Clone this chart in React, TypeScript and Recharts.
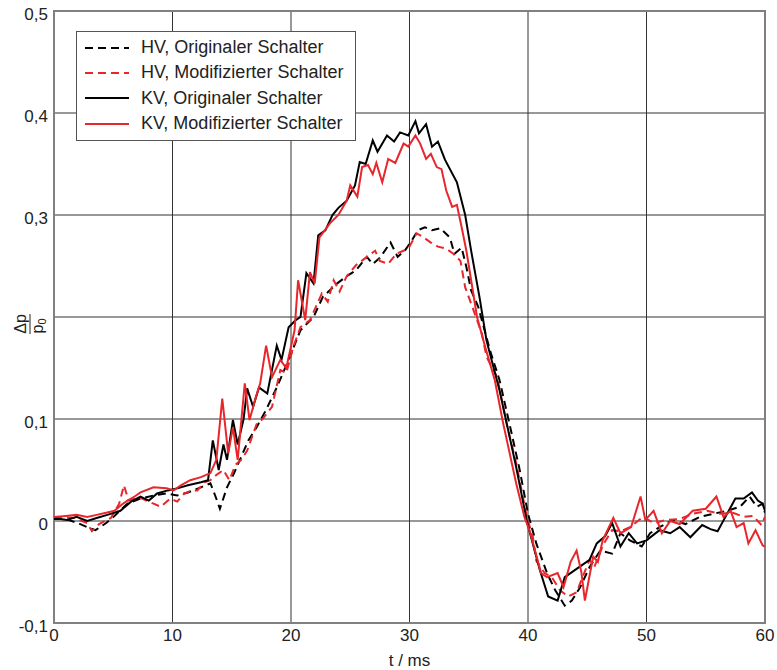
import { CartesianGrid, Legend, Line, LineChart, ReferenceArea, XAxis, YAxis } from "recharts";

// Messdaten [t in ms, Δp/p0]
const HV_ORIG: [number, number][] = [
  [0, 0.002], [1, 0.002], [2, -0.002], [2.8, -0.006], [3.5, -0.009], [4.4, -0.002], [5.1, 0.005],
  [6.2, 0.017], [7.3, 0.022], [8.4, 0.025], [9.5, 0.027], [10.4, 0.025], [11.3, 0.028], [12.4, 0.033],
  [13.2, 0.037], [13.6, 0.025], [14, 0.012], [14.6, 0.033], [15.2, 0.047], [15.8, 0.063], [16.4, 0.079],
  [17.1, 0.092], [17.9, 0.109], [18.8, 0.131], [19.8, 0.158], [20.8, 0.187], [21.9, 0.2], [22.7, 0.22],
  [23.9, 0.233], [24.7, 0.24], [25.5, 0.246], [26.4, 0.259], [26.9, 0.252], [27.5, 0.258], [28.4, 0.273],
  [29, 0.259], [29.6, 0.265], [30.2, 0.275], [30.7, 0.285], [31.3, 0.288], [31.9, 0.285], [32.6, 0.287],
  [33.4, 0.278], [33.8, 0.262], [34.4, 0.268], [34.8, 0.249], [35.2, 0.226], [35.8, 0.21], [36.8, 0.167],
  [37.6, 0.138], [38.5, 0.092], [39.3, 0.05], [40, 0.007], [40.7, -0.022], [41.6, -0.051], [42.3, -0.068],
  [43.1, -0.083], [43.7, -0.078], [44.4, -0.065], [45.2, -0.045], [46.1, -0.029], [47.1, -0.032],
  [47.8, -0.012], [48.6, -0.019], [49.6, -0.025], [50.3, -0.012], [51.1, -0.006], [52.2, 0.001],
  [53.3, -0.003], [54.5, 0.004], [55.6, 0.007], [56.8, 0.01], [57.9, 0.014], [58.7, 0.024], [59.3, 0.014],
  [59.8, 0.017], [60, 0.008],
];

const HV_MOD: [number, number][] = [
  [0, 0.004], [1.7, 0.003], [2.8, -0.002], [3.2, -0.01], [3.8, -0.003], [4.8, 0.003], [5.5, 0.017],
  [5.9, 0.035], [6.3, 0.02], [7.2, 0.023], [8.4, 0.017], [9, 0.014], [9.8, 0.022], [10.4, 0.019],
  [11, 0.027], [11.6, 0.03], [12.1, 0.03], [12.7, 0.038], [13.2, 0.04], [13.8, 0.046], [14.3, 0.05],
  [14.8, 0.04], [15.3, 0.055], [15.8, 0.06], [16.3, 0.069], [17.1, 0.095], [17.6, 0.1], [18.4, 0.112],
  [19.1, 0.148], [19.6, 0.145], [20.2, 0.171], [20.8, 0.19], [21.6, 0.197], [22.6, 0.223], [23.1, 0.215],
  [23.6, 0.236], [24.1, 0.225], [24.7, 0.24], [25.5, 0.251], [26.3, 0.258], [27.1, 0.265], [27.5, 0.255],
  [28.2, 0.252], [28.9, 0.262], [29.9, 0.267], [30.6, 0.282], [31.2, 0.278], [31.8, 0.273], [32.4, 0.269],
  [33.1, 0.267], [33.7, 0.262], [34.3, 0.255], [34.7, 0.229], [35.3, 0.21], [36.1, 0.184], [36.5, 0.161],
  [37.4, 0.141], [38.2, 0.095], [39, 0.057], [39.9, 0.004], [40.4, -0.015], [40.7, -0.039], [41.4, -0.051],
  [42, -0.055], [42.7, -0.068], [43.4, -0.074], [44.1, -0.07], [44.5, -0.058], [45.2, -0.038],
  [45.6, -0.045], [46.4, -0.022], [47.1, -0.009], [47.8, -0.01], [48.6, -0.006], [49.7, 0.004],
  [50.6, -0.002], [51.7, 0.001], [52.8, 0.002], [53.9, 0.007], [55.1, 0.01], [56.2, 0.007], [57.3, 0.008],
  [58.2, 0.004], [59, 0.005], [59.7, -0.004], [60, 0.004],
];

const KV_ORIG: [number, number][] = [
  [0, 0.003], [1.1, 0.001], [1.9, 0.004], [2.8, 0], [3.6, 0.003], [4.5, 0.006], [5.6, 0.01], [6.5, 0.019],
  [7.3, 0.024], [8, 0.02], [8.7, 0.027], [9.6, 0.03], [10.4, 0.032], [11.3, 0.035], [12.4, 0.038],
  [13, 0.04], [13.4, 0.079], [13.9, 0.05], [14.3, 0.075], [14.6, 0.06], [15.1, 0.099], [15.5, 0.075],
  [16, 0.1], [16.3, 0.13], [16.8, 0.112], [17.3, 0.131], [18, 0.125], [18.8, 0.172], [19.2, 0.158],
  [19.8, 0.19], [20.4, 0.197], [20.8, 0.2], [21.3, 0.243], [21.9, 0.233], [22.3, 0.28], [22.9, 0.285],
  [23.5, 0.3], [24, 0.307], [24.7, 0.314], [25.4, 0.329], [25.8, 0.352], [26.3, 0.35], [26.9, 0.373],
  [27.3, 0.362], [28.1, 0.378], [28.7, 0.372], [29.2, 0.381], [29.9, 0.378], [30.5, 0.392], [30.8, 0.38],
  [31.4, 0.389], [31.9, 0.367], [32.4, 0.372], [33, 0.354], [34, 0.332], [34.7, 0.3], [35.2, 0.265],
  [35.9, 0.22], [36.5, 0.177], [37.6, 0.128], [39, 0.053], [39.9, 0], [40.4, -0.022], [41, -0.048],
  [41.7, -0.074], [42.5, -0.078], [43.1, -0.055], [44.1, -0.047], [45.2, -0.038], [45.8, -0.022],
  [46.5, -0.015], [47.1, -0.002], [47.8, -0.025], [48.5, -0.012], [49.2, -0.022], [50, -0.019],
  [51.1, -0.009], [52, -0.012], [52.8, -0.006], [53.7, -0.016], [54.7, -0.004], [55.4, -0.008],
  [56, -0.01], [56.8, 0.007], [57.5, 0.022], [58.2, 0.022], [58.9, 0.028], [59.4, 0.02], [59.8, 0.017],
  [60, 0.01],
];

const KV_MOD: [number, number][] = [
  [0, 0.004], [1, 0.005], [1.9, 0.006], [2.8, 0.004], [3.6, 0.006], [4.4, 0.008], [5.1, 0.01],
  [5.7, 0.016], [6.2, 0.02], [6.8, 0.024], [7.3, 0.028], [8.4, 0.033], [9.5, 0.032], [10.1, 0.03],
  [10.7, 0.035], [11.5, 0.04], [12.4, 0.043], [13.2, 0.047], [13.7, 0.06], [14.2, 0.12], [14.7, 0.066],
  [15.1, 0.092], [15.5, 0.06], [16.1, 0.135], [16.5, 0.099], [17, 0.12], [17.4, 0.135], [17.9, 0.172],
  [18.4, 0.141], [19.1, 0.158], [19.6, 0.15], [20.3, 0.187], [20.6, 0.236], [21.2, 0.197], [21.6, 0.244],
  [22, 0.233], [22.4, 0.278], [23.3, 0.292], [24, 0.3], [24.7, 0.314], [25, 0.329], [25.6, 0.318],
  [26, 0.347], [26.5, 0.349], [26.9, 0.34], [27.2, 0.351], [27.7, 0.332], [28.2, 0.355], [28.8, 0.351],
  [29.5, 0.37], [29.9, 0.367], [30.5, 0.378], [30.9, 0.37], [31.4, 0.355], [31.8, 0.36], [32.3, 0.347],
  [32.7, 0.345], [33.1, 0.324], [33.6, 0.308], [34, 0.31], [34.4, 0.288], [34.8, 0.265], [35.2, 0.236],
  [35.7, 0.2], [36.4, 0.17], [37.2, 0.138], [37.9, 0.096], [39, 0.037], [39.7, 0.004], [40.2, -0.012],
  [41.1, -0.051], [41.6, -0.055], [42.5, -0.051], [43, -0.065], [43.6, -0.04], [44.1, -0.029],
  [44.5, -0.05], [44.8, -0.078], [45.5, -0.035], [45.9, -0.04], [46.3, -0.019], [47.2, 0.003],
  [47.8, -0.012], [48.7, -0.006], [49.5, 0.024], [49.9, 0.001], [50.6, 0.01], [51.3, -0.012], [52, 0],
  [52.8, -0.003], [53.9, 0.01], [55, 0.012], [55.9, 0.024], [56.5, 0.004], [57.1, 0.01], [57.6, -0.006],
  [58.2, -0.002], [58.6, -0.022], [59.2, -0.009], [59.8, -0.024], [60, -0.025],
];

const X_TICKS = [0, 10, 20, 30, 40, 50, 60];
const Y_TICKS = [-0.1, 0, 0.1, 0.2, 0.3, 0.4, 0.5];

const RED = "#e8262b";
const FONT = "Arial, 'Liberation Sans', sans-serif";

const SERIES = [
  { name: "HV, Originaler Schalter", data: HV_ORIG, color: "#000", dash: "8 5" },
  { name: "HV, Modifizierter Schalter", data: HV_MOD, color: RED, dash: "8 5" },
  { name: "KV, Originaler Schalter", data: KV_ORIG, color: "#000", dash: undefined },
  { name: "KV, Modifizierter Schalter", data: KV_MOD, color: RED, dash: undefined },
];

const toPoints = (arr: [number, number][]) => arr.map(([t, v]) => ({ t, v }));

function LegendBox() {
  return (
    <div
      style={{
        background: "#fff",
        border: "1px solid #555",
        padding: "3px 10px 4px 8px",
        fontFamily: FONT,
        fontSize: 18,
        color: "#222",
      }}
    >
      {SERIES.map((s) => (
        <div key={s.name} style={{ display: "flex", alignItems: "center", height: 25.3 }}>
          <svg width={44} height={6} style={{ marginRight: 12 }}>
            <line x1={0} y1={3} x2={44} y2={3} stroke={s.color} strokeWidth={2} strokeDasharray={s.dash} />
          </svg>
          <span>{s.name}</span>
        </div>
      ))}
    </div>
  );
}

function YLabel(props: any) {
  const vb = props.viewBox || {};
  const cx = 30;
  const cy = vb.y + vb.height * (0.3 / 0.6) + 7;
  return (
    <g transform={`translate(${cx},${cy}) rotate(-90)`} fontFamily={FONT} fill="#222">
      <text x={0} y={-4} textAnchor="middle" fontSize={16}>Δp</text>
      <line x1={-10} x2={10} y1={0} y2={0} stroke="#222" strokeWidth={1} />
      <text x={-2} y={13} textAnchor="middle" fontSize={16}>
        p<tspan fontSize={11} dy={3}>0</tspan>
      </text>
    </g>
  );
}

function XLabel(props: any) {
  const vb = props.viewBox || {};
  return (
    <text x={vb.x + vb.width / 2} y={vb.y + 43} textAnchor="middle" fontFamily={FONT} fontSize={17} fill="#222">
      t / ms
    </text>
  );
}

export default function App() {
  return (
    <div style={{ position: "absolute", left: 0, top: 0, width: 777, height: 670, background: "#fff" }}>
      <LineChart width={777} height={670} margin={{ top: 11, right: 12, bottom: 0, left: 0 }}>
        <CartesianGrid stroke="#333" strokeWidth={1} horizontalValues={Y_TICKS} verticalValues={X_TICKS} />
        <XAxis
          type="number"
          dataKey="t"
          domain={[0, 60]}
          ticks={X_TICKS}
          height={47}
          tickLine={false}
          axisLine={false}
          tickSize={4}
          tickMargin={2}
          tick={{ fontSize: 17, fill: "#222", fontFamily: FONT }}
          label={<XLabel />}
          allowDataOverflow
        />
        <YAxis
          type="number"
          dataKey="v"
          domain={[-0.1, 0.5]}
          ticks={Y_TICKS}
          width={54}
          tickLine={false}
          axisLine={false}
          tickSize={4}
          tickMargin={2}
          tick={{ fontSize: 17, fill: "#222", fontFamily: FONT, dy: 3 }}
          tickFormatter={(v: number) => (Math.abs(v - 0.2) < 1e-9 ? "" : String(Math.round(v * 10) / 10).replace(".", ","))}
          label={<YLabel />}
          allowDataOverflow
        />
        <ReferenceArea x1={0} x2={60} y1={-0.1} y2={0.5} fill="none" stroke="#808080" strokeWidth={2} ifOverflow="visible" />
        {SERIES.map((s) => (
          <Line
            key={s.name}
            name={s.name}
            data={toPoints(s.data)}
            dataKey="v"
            type="linear"
            stroke={s.color}
            strokeWidth={2}
            strokeDasharray={s.dash}
            dot={false}
            activeDot={false}
            isAnimationActive={false}
          />
        ))}
        <Legend
          layout="horizontal"
          verticalAlign="middle"
          align="center"
          content={<LegendBox />}
          wrapperStyle={{ position: "absolute", left: 76, top: 31, width: 280, height: "auto" }}
        />
      </LineChart>
    </div>
  );
}
